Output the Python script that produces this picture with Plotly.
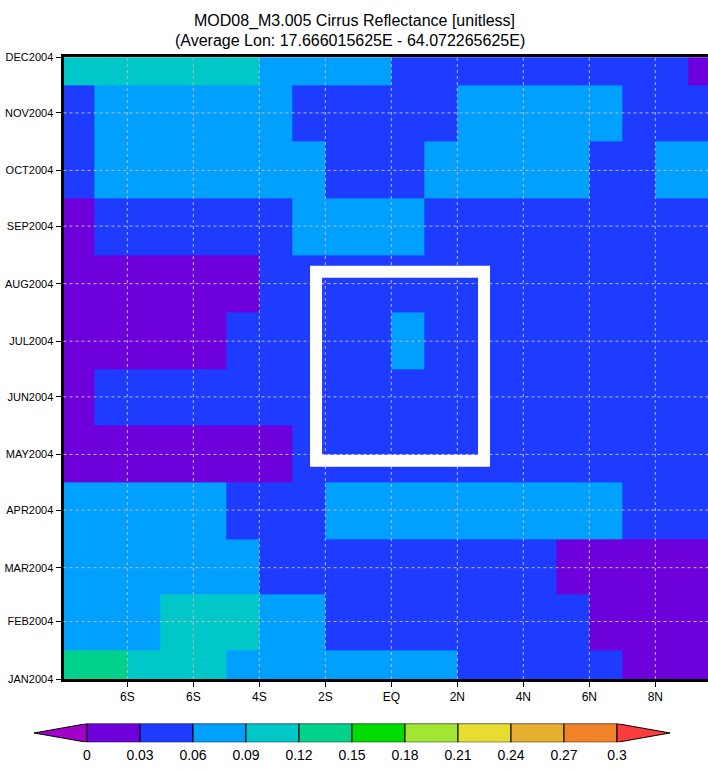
import plotly.graph_objects as go

# ---------------- data ----------------
lat_centers = [-9.5 + i for i in range(20)]
months = ["2004-%02d-01" % m for m in range(1, 13)]
month_labels = ["JAN2004", "FEB2004", "MAR2004", "APR2004", "MAY2004", "JUN2004",
                "JUL2004", "AUG2004", "SEP2004", "OCT2004", "NOV2004", "DEC2004"]

lat_ticks = [-8, -6, -4, -2, 0, 2, 4, 6, 8]
lat_labels = ["6S", "6S", "4S", "2S", "EQ", "2N", "4N", "6N", "8N"]

levels = [0, 0.03, 0.06, 0.09, 0.12, 0.15, 0.18, 0.21, 0.24, 0.27, 0.3]
level_labels = ["0", "0.03", "0.06", "0.09", "0.12", "0.15", "0.18", "0.21", "0.24", "0.27", "0.3"]
bin_colors = ["rgb(110,0,220)", "rgb(30,60,255)", "rgb(0,160,255)", "rgb(0,200,200)",
              "rgb(0,210,140)", "rgb(0,220,0)", "rgb(160,230,50)", "rgb(230,220,50)",
              "rgb(230,175,45)", "rgb(240,130,40)"]
under_color = "rgb(160,0,200)"
over_color = "rgb(250,60,60)"

# cirrus reflectance per month (rows) and latitude (columns, -9.5 .. 9.5)
jan = [0.135, 0.135, 0.105, 0.105, 0.105, 0.075, 0.075, 0.075, 0.075, 0.075, 0.075, 0.075, 0.045, 0.045, 0.045, 0.045, 0.045, 0.015, 0.015, 0.015]
feb = [0.075, 0.075, 0.075, 0.105, 0.105, 0.105, 0.075, 0.075, 0.045, 0.045, 0.045, 0.045, 0.045, 0.045, 0.045, 0.045, 0.015, 0.015, 0.015, 0.015]
mar = [0.075, 0.075, 0.075, 0.075, 0.075, 0.075, 0.045, 0.045, 0.045, 0.045, 0.045, 0.045, 0.045, 0.045, 0.045, 0.015, 0.015, 0.015, 0.015, 0.015]
apr = [0.075, 0.075, 0.075, 0.075, 0.075, 0.045, 0.045, 0.045, 0.075, 0.075, 0.075, 0.075, 0.075, 0.075, 0.075, 0.075, 0.075, 0.045, 0.045, 0.045]
may = [0.015, 0.015, 0.015, 0.015, 0.015, 0.015, 0.015, 0.045, 0.045, 0.045, 0.045, 0.045, 0.045, 0.045, 0.045, 0.045, 0.045, 0.045, 0.045, 0.045]
jun = [0.015, 0.045, 0.045, 0.045, 0.045, 0.045, 0.045, 0.045, 0.045, 0.045, 0.045, 0.045, 0.045, 0.045, 0.045, 0.045, 0.045, 0.045, 0.045, 0.045]
jul = [0.015, 0.015, 0.015, 0.015, 0.015, 0.045, 0.045, 0.045, 0.045, 0.045, 0.075, 0.045, 0.045, 0.045, 0.045, 0.045, 0.045, 0.045, 0.045, 0.045]
aug = [0.015, 0.015, 0.015, 0.015, 0.015, 0.015, 0.045, 0.045, 0.045, 0.045, 0.045, 0.045, 0.045, 0.045, 0.045, 0.045, 0.045, 0.045, 0.045, 0.045]
sep = [0.015, 0.045, 0.045, 0.045, 0.045, 0.045, 0.045, 0.075, 0.075, 0.075, 0.075, 0.045, 0.045, 0.045, 0.045, 0.045, 0.045, 0.045, 0.045, 0.045]
oct_ = [0.045, 0.075, 0.075, 0.075, 0.075, 0.075, 0.075, 0.075, 0.045, 0.045, 0.045, 0.075, 0.075, 0.075, 0.075, 0.075, 0.045, 0.045, 0.075, 0.075]
nov = [0.045, 0.075, 0.075, 0.075, 0.075, 0.075, 0.075, 0.045, 0.045, 0.045, 0.045, 0.045, 0.075, 0.075, 0.075, 0.075, 0.075, 0.045, 0.045, 0.045]
dec = [0.105, 0.105, 0.105, 0.105, 0.105, 0.105, 0.075, 0.075, 0.075, 0.075, 0.045, 0.045, 0.045, 0.045, 0.045, 0.045, 0.045, 0.045, 0.045, 0.015]
z = [jan, feb, mar, apr, may, jun, jul, aug, sep, oct_, nov, dec]

# highlighted box (lat range, date range)
box_lat = (-2.28, 2.81)
box_time = ("2004-04-27 14:00", "2004-08-07 10:00")

title1 = "MOD08_M3.005 Cirrus Reflectance [unitless]"
title2 = "(Average Lon: 17.666015625E - 64.072265625E)"

# ---------------- figure ----------------
W, H = 708, 769
zmin, zmax = levels[0], levels[-1]
colorscale = []
for i, c in enumerate(bin_colors):
    colorscale.append([(levels[i] - zmin) / (zmax - zmin), c])
    colorscale.append([(levels[i + 1] - zmin) / (zmax - zmin), c])

SANS = "Liberation Sans, Arial, sans-serif"

fig = go.Figure()
fig.add_trace(go.Heatmap(x=lat_centers, y=months, z=z, colorscale=colorscale,
                         zmin=zmin, zmax=zmax, showscale=False, xaxis="x", yaxis="y"))

# colour bar as its own subplot
step = levels[1] - levels[0]
mids = [(levels[i] + levels[i + 1]) / 2 for i in range(len(bin_colors))]
fig.add_trace(go.Bar(x=mids, y=[1] * len(mids), base=0, width=step,
                     marker=dict(color=bin_colors, line=dict(color="black", width=1)),
                     xaxis="x2", yaxis="y2", showlegend=False, hoverinfo="skip"))
fig.add_trace(go.Scatter(x=[levels[0], levels[0] - step, levels[0], levels[0]],
                         y=[0, 0.5, 1, 0], fill="toself", fillcolor=under_color, mode="lines",
                         line=dict(color="black", width=1), xaxis="x2", yaxis="y2",
                         showlegend=False, hoverinfo="skip"))
fig.add_trace(go.Scatter(x=[levels[-1], levels[-1] + step, levels[-1], levels[-1]],
                         y=[0, 0.5, 1, 0], fill="toself", fillcolor=over_color, mode="lines",
                         line=dict(color="black", width=1), xaxis="x2", yaxis="y2",
                         showlegend=False, hoverinfo="skip"))

# grid lines drawn above heatmap
grid_style = dict(color="rgb(185,185,185)", width=1, dash="dot")
shapes = []
for t in lat_ticks:
    shapes.append(dict(type="line", xref="x", yref="y domain", x0=t, x1=t, y0=0, y1=1,
                       line=grid_style, layer="above"))
for m in months[1:-1]:
    shapes.append(dict(type="line", xref="x domain", yref="y", x0=0, x1=1, y0=m, y1=m,
                       line=grid_style, layer="above"))
shapes.append(dict(type="rect", xref="x", yref="y", x0=box_lat[0], x1=box_lat[1],
                   y0=box_time[0], y1=box_time[1], line=dict(color="white", width=12),
                   fillcolor="rgba(0,0,0,0)", layer="above"))

# pixel geometry of the main plot
px_left, px_eq, px_per_deg = 63.5, 391.3, 33.0
x_range = [(px_left - px_eq) / px_per_deg, (W - px_eq) / px_per_deg]
y_top_px, y_bot_px = 52.0, 683.7

# colour bar geometry
cb_px0, cb_px1 = 87.0, 617.0
cb_scale = (cb_px1 - cb_px0) / (zmax - zmin)
cb_dom_px = (33.0, 672.0)
cb_range = [zmin + (cb_dom_px[0] - cb_px0) / cb_scale, zmin + (cb_dom_px[1] - cb_px0) / cb_scale]

fig.update_layout(
    width=W, height=H,
    margin=dict(l=0, r=0, t=0, b=0),
    paper_bgcolor="white", plot_bgcolor="white",
    showlegend=False,
    shapes=shapes,
    xaxis=dict(domain=[px_left / W, 1], range=x_range, tickvals=lat_ticks, ticktext=lat_labels,
               ticks="outside", ticklen=5, tickcolor="black", tickwidth=1,
               showline=True, linecolor="black", linewidth=3, mirror=True,
               showgrid=False, zeroline=False,
               tickfont=dict(family=SANS, size=12, color="black"), anchor="y"),
    yaxis=dict(domain=[1 - y_bot_px / H, 1 - y_top_px / H], type="date",
               range=[months[0], months[-1]], tickvals=months, ticktext=month_labels,
               ticks="outside", ticklen=5, tickcolor="black", tickwidth=1,
               showline=True, linecolor="black", linewidth=3, mirror=False,
               showgrid=False, zeroline=False,
               tickfont=dict(family=SANS, size=11, color="black"), anchor="x"),
    xaxis2=dict(domain=[cb_dom_px[0] / W, cb_dom_px[1] / W], range=cb_range,
                tickvals=levels, ticktext=level_labels, ticks="", showline=False,
                showgrid=False, zeroline=False, anchor="y2", ticklabelstandoff=3,
                tickfont=dict(family=SANS, size=14, color="black")),
    yaxis2=dict(domain=[1 - 748.0 / H, 1 - 729.0 / H], range=[0, 1], visible=False,
                anchor="x2"),
    annotations=[
        dict(text=title1, xref="paper", yref="paper", x=354 / W, y=1 - 15.5 / H,
             showarrow=False, font=dict(family=SANS, size=16, color="black"),
             xanchor="center", yanchor="middle"),
        dict(text=title2, xref="paper", yref="paper", x=350 / W, y=1 - 35.5 / H,
             showarrow=False, font=dict(family=SANS, size=16, color="black"),
             xanchor="center", yanchor="middle"),
    ],
)

fig.write_html("out.html")
